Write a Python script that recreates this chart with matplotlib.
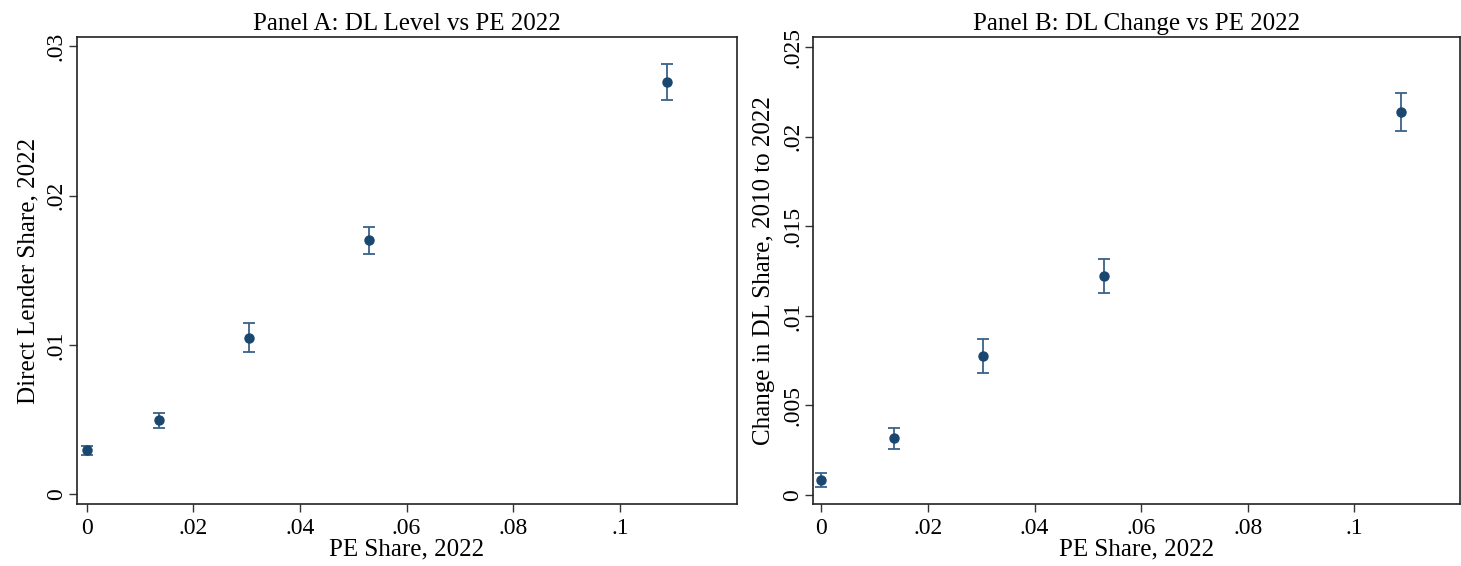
import matplotlib
matplotlib.use('Agg')
import matplotlib.pyplot as plt
import numpy as np

# binned means of PE share (x) with 95% CI on the y variable
pe_share = [0.0, 0.0136, 0.0304, 0.0530, 0.1088]

# Panel A: DL level 2022
dl_level = [0.00296, 0.00496, 0.01047, 0.01700, 0.02759]
dl_level_lo = [0.00264, 0.00445, 0.00950, 0.01607, 0.02637]
dl_level_hi = [0.00327, 0.00546, 0.01144, 0.01791, 0.02882]

# Panel B: change in DL share 2010-2022
dl_change = [0.00085, 0.00317, 0.00774, 0.01220, 0.02137]
dl_change_lo = [0.00046, 0.00258, 0.00679, 0.01125, 0.02032]
dl_change_hi = [0.00125, 0.00373, 0.00871, 0.01317, 0.02242]

xticks = [0, 0.02, 0.04, 0.06, 0.08, 0.1]
xticklabels = ['0', '.02', '.04', '.06', '.08', '.1']
yticks_a = [0, 0.01, 0.02, 0.03]
yticklabels_a = ['0', '.01', '.02', '.03']
yticks_b = [0, 0.005, 0.01, 0.015, 0.02, 0.025]
yticklabels_b = ['0', '.005', '.01', '.015', '.02', '.025']

plt.rcParams['font.family'] = ['Liberation Serif', 'DejaVu Serif']

marker_col = '#1a476f'
bar_col = '#3a618a'


def panel(ax, y, lo, hi, title, ylabel, yticks, yticklabels, xlim, ylim):
    y = np.array(y)
    err = [y - np.array(lo), np.array(hi) - y]
    ax.errorbar(pe_share, y, yerr=err, fmt='none', ecolor=bar_col, elinewidth=1.3,
                capsize=4, capthick=1.3, zorder=2)
    ax.plot(pe_share, y, 'o', color=marker_col, markersize=6.5, zorder=3)
    ax.set_xlim(xlim)
    ax.set_ylim(ylim)
    ax.set_xticks(xticks)
    ax.set_xticklabels(xticklabels)
    ax.set_yticks(yticks)
    ax.set_yticklabels(yticklabels, rotation=90, va='center')
    ax.tick_params(labelsize=17, length=6, width=1, color='#333333')
    ax.tick_params(axis='x', pad=4)
    ax.tick_params(axis='y', pad=1)
    ax.set_title(title, fontsize=18, pad=5)
    ax.set_xlabel('PE Share, 2022', fontsize=18, labelpad=0)
    ax.set_ylabel(ylabel, fontsize=18, labelpad=5)
    for s in ax.spines.values():
        s.set_linewidth(1.2)
        s.set_color('#222222')


fig = plt.figure(figsize=(14.61, 5.66), dpi=100)
ax1 = fig.add_axes([0.0525, 0.1095, 0.4517, 0.8245])
ax2 = fig.add_axes([0.5563, 0.1095, 0.443, 0.8245])

panel(ax1, dl_level, dl_level_lo, dl_level_hi, 'Panel A: DL Level vs PE 2022',
      'Direct Lender Share, 2022', yticks_a, yticklabels_a,
      (-0.00188, 0.1219), (-0.00064, 0.03058))
panel(ax2, dl_change, dl_change_lo, dl_change_hi, 'Panel B: DL Change vs PE 2022',
      'Change in DL Share, 2010 to 2022', yticks_b, yticklabels_b,
      (-0.00159, 0.1198), (-0.0005, 0.02554))

plt.savefig('out.png', dpi=100)
